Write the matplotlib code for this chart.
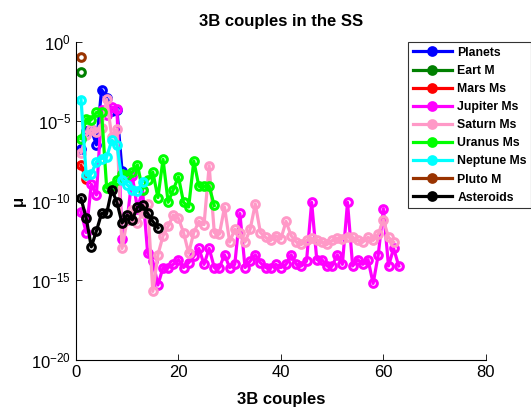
import numpy as np
import matplotlib
matplotlib.use("Agg")
import matplotlib.pyplot as plt

# mass ratios, stored as log10(mu); index along x is the couple number (1..n)
planets_log = [-6.78, -5.61, -5.52, -6.49, -3.02, -3.54, -4.36, -4.29, -8.13]
earth_m_log = [-1.92]
mars_ms_log = [-7.78, -8.64]
jupiter_ms_log = [-10.7, -12.0, -8.96, -9.64, -4.33, -4.61, -4.11, -4.25, -12.4, -11.2,
                  -8.45, -10.5, -9.34, -13.3, -13.8, -15.3, -14.2, -14.2, -14.0, -13.7,
                  -14.2, -13.9, -13.5, -13.0, -14.0, -13.0, -14.2, -14.2, -13.4, -14.2,
                  -14.0, -10.8, -14.2, -13.8, -13.4, -13.9, -14.2, -14.2, -14.0, -14.2,
                  -14.0, -13.4, -14.0, -14.1, -13.8, -10.1, -13.7, -13.7, -14.1, -14.1,
                  -13.4, -14.0, -10.1, -14.1, -13.7, -14.0, -13.7, -15.2, -13.4, -10.5,
                  -14.1, -13.0, -14.1]
saturn_ms_log = [-7.0, -5.9, -5.5, -5.7, -5.4, -3.63, -6.0, -5.5, -13.0, -11.2,
                 -10.6, -11.4, -10.8, -10.2, -15.7, -13.4, -12.2, -11.6, -10.9, -11.1,
                 -12.0, -13.3, -12.0, -11.3, -11.5, -7.8, -12.0, -12.1, -10.4, -12.6,
                 -11.8, -12.0, -12.6, -11.8, -10.2, -12.0, -12.3, -12.5, -12.2, -12.4,
                 -11.3, -12.2, -12.6, -12.75, -12.5, -12.36, -12.5, -12.6, -12.75, -12.5,
                 -12.36, -12.4, -12.25, -12.3, -12.5, -12.6, -12.3, -12.5, -12.1, -11.2,
                 -12.3, -12.6]
uranus_ms_log = [-6.1, -4.85, -4.9, -4.45, -4.45, -9.2, -9.1, -8.7, -8.3, -8.4,
                 -8.2, -7.75, -9.3, -8.7, -8.2, -9.8, -7.4, -10.1, -9.3, -8.5,
                 -10.1, -10.4, -7.5, -9.1, -9.1, -9.1, -10.3]
neptune_ms_log = [-3.64, -8.4, -8.3, -7.56, -7.35, -7.25, -6.2, -6.5, -8.7, -9.0,
                  -9.3, -9.4, -8.8]
pluto_m_log = [-0.97]
asteroids_log = [-9.86, -11.1, -12.9, -11.9, -10.8, -10.8, -9.3, -10.1, -11.4, -10.9,
                 -11.2, -10.4, -10.3, -10.8, -11.3, -11.7]

series = [
    ("Planets", planets_log, (0, 0, 1)),
    ("Eart M", earth_m_log, (0, 0.5, 0)),
    ("Mars Ms", mars_ms_log, (1, 0, 0)),
    ("Jupiter Ms", jupiter_ms_log, (1, 0, 1)),
    ("Saturn Ms", saturn_ms_log, (1, 0.6, 0.78)),
    ("Uranus Ms", uranus_ms_log, (0, 1, 0)),
    ("Neptune Ms", neptune_ms_log, (0, 1, 1)),
    ("Pluto M", pluto_m_log, (0.6, 0.2, 0)),
    ("Asteroids", asteroids_log, (0, 0, 0)),
]

plt.rcParams["font.family"] = ["Liberation Sans", "DejaVu Sans"]

fig = plt.figure(figsize=(5.31, 4.16), dpi=100)
ax = fig.add_axes([0.143, 0.135, 0.772, 0.765])

for name, vals, col in series:
    x = np.arange(1, len(vals) + 1)
    y = 10.0 ** np.array(vals)
    ax.plot(x, y, "-o", color=col, lw=2.3, ms=5.5, mew=2.2, mfc="none", label=name)

ax.set_yscale("log")
ax.set_xlim(0, 80)
ax.set_ylim(1e-20, 1)
ax.set_yticks([1e0, 1e-5, 1e-10, 1e-15, 1e-20])
ax.minorticks_off()
ax.set_xticks([0, 20, 40, 60, 80])
ax.tick_params(direction="in", labelsize=12, length=4, width=0.6)
for s in ("top", "right"):
    ax.spines[s].set_visible(False)
for s in ("left", "bottom"):
    ax.spines[s].set_linewidth(0.8)

ax.set_title("3B couples in the SS", fontsize=12, fontweight="bold", pad=11)
ax.set_xlabel("3B couples", fontsize=12, fontweight="bold", labelpad=9)
ax.set_ylabel("\u03bc", fontsize=12, fontweight="bold", labelpad=4)

leg = ax.legend(loc="upper left", bbox_to_anchor=(0.805, 1.005), frameon=True,
                fancybox=False, edgecolor="black",
                prop={"weight": "bold", "size": 8.8}, handlelength=3.2,
                borderpad=0.35, labelspacing=0.5, handletextpad=0.45,
                borderaxespad=0.2)
leg.get_frame().set_linewidth(0.8)
for h in leg.legend_handles:
    h.set_markerfacecolor(h.get_color())

fig.savefig("out.png", dpi=100)
